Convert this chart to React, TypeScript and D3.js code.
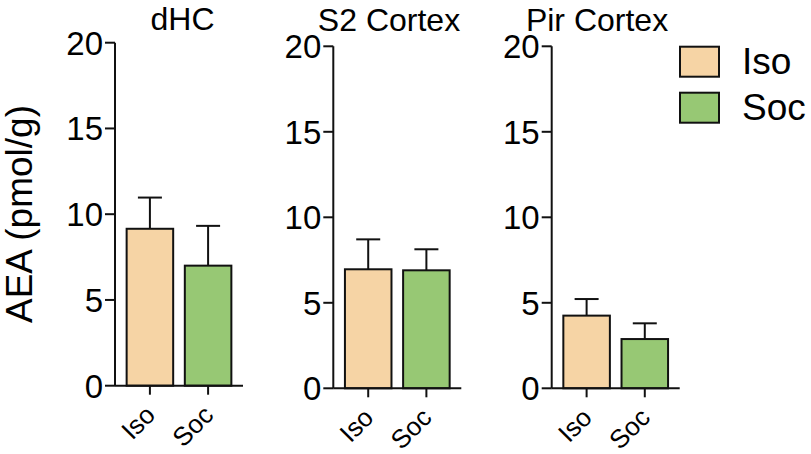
import React from 'react';
import * as d3 from 'd3';

// values (pmol/g, mean + SEM)
const regions = ['dHC', 'S2 Cortex', 'Pir Cortex'];
const groups = ['Iso', 'Soc'];
const isoMean = [9.15, 6.96, 4.25];
const isoSem = [1.82, 1.75, 0.97];
const socMean = [7.0, 6.9, 2.88];
const socSem = [2.32, 1.23, 0.92];
const yTicks = [0, 5, 10, 15, 20];

const colors: Record<string, string> = { Iso: '#F6D4A5', Soc: '#97C874' };

// panel frames (pixel layout of the three small plots)
const panels = [
  { axisX: 115, y0: 385.7, yTop: 42.7, titleX: 182.5, titleY: 30 },
  { axisX: 333.3, y0: 388.3, yTop: 46.3, titleX: 389, titleY: 31 },
  { axisX: 551.7, y0: 388.3, yTop: 46.3, titleX: 597, titleY: 31 }
];
const plotWidth = 128;
const font = 'Liberation Sans, Arial, Helvetica, sans-serif';

function Panel({ i }: { i: number }) {
  const p = panels[i];
  const x = d3
    .scaleBand<string>()
    .domain(groups)
    .range([p.axisX, p.axisX + plotWidth])
    .padding(0.2);
  const y = d3.scaleLinear().domain([0, 20]).range([p.y0, p.yTop]);

  const means = [isoMean[i], socMean[i]];
  const sems = [isoSem[i], socSem[i]];
  const capHalf = 12;

  return (
    <g>
      <text
        x={p.titleX}
        y={p.titleY}
        textAnchor='middle'
        fontSize={32}
        fontFamily={font}
      >
        {regions[i]}
      </text>

      {/* error bars, drawn under the bars */}
      {groups.map((g, j) => {
        const cx = x(g)! + x.bandwidth() / 2;
        return (
          <g key={'e' + g} stroke='#111' strokeWidth={2}>
            <line x1={cx} x2={cx} y1={y(means[j])} y2={y(means[j] + sems[j])} />
            <line
              x1={cx - capHalf}
              x2={cx + capHalf}
              y1={y(means[j] + sems[j])}
              y2={y(means[j] + sems[j])}
            />
          </g>
        );
      })}

      {groups.map((g, j) => (
        <rect
          key={g}
          x={x(g)}
          y={y(means[j])}
          width={x.bandwidth()}
          height={y(0) - y(means[j])}
          fill={colors[g]}
          stroke='#111'
          strokeWidth={2}
        />
      ))}

      {/* y axis */}
      <line x1={p.axisX} x2={p.axisX} y1={y(0)} y2={y(20)} stroke='#111' strokeWidth={2} />
      {yTicks.map(t => (
        <g key={t}>
          <line x1={p.axisX - 10} x2={p.axisX} y1={y(t)} y2={y(t)} stroke='#111' strokeWidth={2} />
          <text
            x={p.axisX - 12}
            y={y(t)}
            dy='0.36em'
            textAnchor='end'
            fontSize={33}
            fontFamily={font}
          >
            {t}
          </text>
        </g>
      ))}

      {/* x axis */}
      <line
        x1={p.axisX}
        x2={p.axisX + plotWidth}
        y1={y(0)}
        y2={y(0)}
        stroke='#111'
        strokeWidth={2}
      />
      {groups.map(g => {
        const cx = x(g)! + x.bandwidth() / 2;
        return (
          <g key={'t' + g}>
            <line x1={cx} x2={cx} y1={y(0)} y2={y(0) + 9} stroke='#111' strokeWidth={2} />
            <text
              transform={`translate(${cx - 6}, ${y(0) + 18}) rotate(-45)`}
              textAnchor='end'
              dy='0.7em'
              fontSize={26}
              fontFamily={font}
            >
              {g}
            </text>
          </g>
        );
      })}
    </g>
  );
}

export default function App() {
  return (
    <svg
      width={811}
      height={454}
      style={{ position: 'absolute', left: 0, top: 0, background: '#fff' }}
    >
      <text
        transform='translate(32, 214) rotate(-90)'
        textAnchor='middle'
        fontSize={37}
        fontFamily={font}
      >
        AEA (pmol/g)
      </text>

      {regions.map((r, i) => (
        <Panel key={r} i={i} />
      ))}

      {/* legend */}
      {groups.map((g, j) => (
        <g key={g} transform={`translate(680, ${46.7 + j * 46})`}>
          <rect width={39} height={30} fill={colors[g]} stroke='#111' strokeWidth={2} />
          <text x={62} y={27} fontSize={37} fontFamily={font}>
            {g}
          </text>
        </g>
      ))}
    </svg>
  );
}
